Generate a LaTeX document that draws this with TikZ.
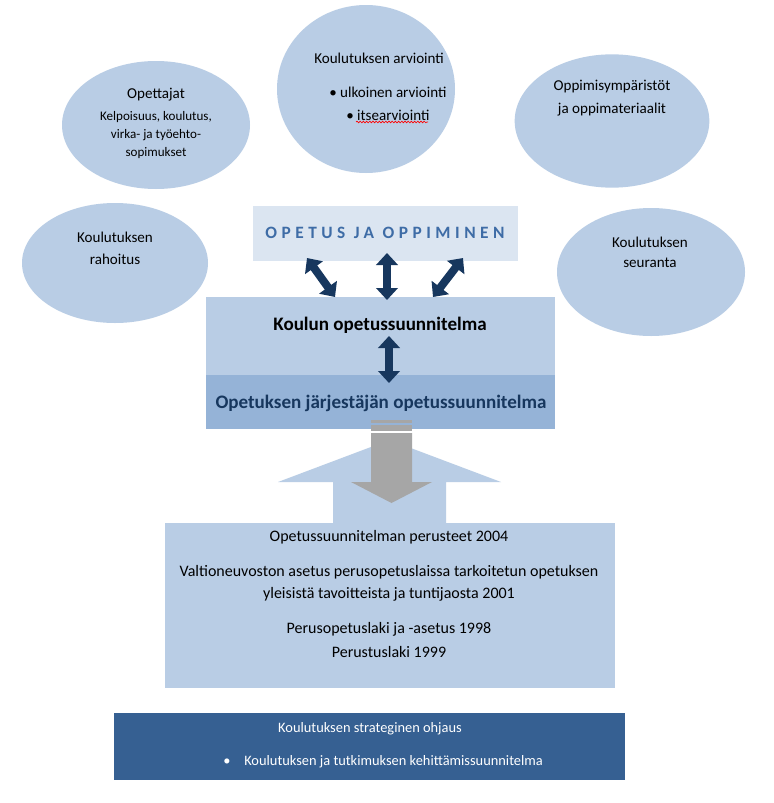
\documentclass[tikz,border=0pt]{standalone}
\usepackage{fontspec}
\setmainfont{Carlito}
\newfontfamily\spacedfont[LetterSpace=26]{Carlito}
\usetikzlibrary{shapes.geometric,arrows.meta,decorations.pathmorphing}
\definecolor{ellfill}{HTML}{B9CDE5}
\definecolor{palebox}{HTML}{DBE5F1}
\definecolor{midbox}{HTML}{95B3D7}
\definecolor{navy}{HTML}{17375E}
\definecolor{titleblue}{HTML}{3E6CA6}
\definecolor{grayarrow}{HTML}{A6A6A6}
\definecolor{darkbox}{HTML}{366092}
\begin{document}
\begin{tikzpicture}[x=0.75pt,y=-0.75pt,
  ell/.style={ellipse,fill=ellfill,draw=none,inner sep=0pt},
  txt/.style={inner sep=0pt,anchor=center,font=\fontsize{11.3}{13}\selectfont},
  small/.style={inner sep=0pt,anchor=center,font=\fontsize{9.8}{11}\selectfont},
  boxtxt/.style={inner sep=0pt,anchor=center,font=\fontsize{12}{14}\selectfont},
  dblarrow/.style={navy,line width=6pt,{Triangle[width=16pt,length=9pt]}-{Triangle[width=16pt,length=9pt]},shorten <=0pt,shorten >=0pt}]
\useasboundingbox (0,0) rectangle (774,803);
\fill[white] (0,0) rectangle (774,803);

% ellipses
\node[ell,minimum width=141pt,minimum height=96pt] (opettajat) at (156,125) {};
\node[ell,minimum width=133.5pt,minimum height=126pt] (arviointi) at (366,89) {};
\node[ell,minimum width=146pt,minimum height=100pt] (oppimis) at (612,121) {};
\node[ell,minimum width=139.5pt,minimum height=90pt] (rahoitus) at (115,263) {};
\node[ell,minimum width=141pt,minimum height=96pt] (seuranta) at (651,272) {};

\node[txt] (t1) at (156,95) {Opettajat};
\node[small] (t2) at (156,117) {Kelpoisuus, koulutus,};
\node[small] (t3) at (156,135) {virka- ja työehto-};
\node[small] (t4) at (156,153) {sopimukset};

\node[txt,anchor=west] (a1) at (314,58) {Koulutuksen arviointi};
\node[txt,anchor=west] (a2) at (329,92) {\textbullet\ ulkoinen arviointi};
\node[txt,anchor=west] (a3) at (346,115) {\textbullet\ itsearviointi};
\coordinate (w1) at (356,122);
\coordinate (w2) at (428,122);
\draw[red,line width=0.5pt,decorate,decoration={snake,amplitude=0.6pt,segment length=2.4pt}] (w1) -- (w2);

\node[txt] (o1) at (612,87) {Oppimisympäristöt};
\node[txt] (o2) at (612,110) {ja oppimateriaalit};

\node[txt] (r1) at (115,237) {Koulutuksen};
\node[txt] (r2) at (115,259) {rahoitus};

\node[txt] (s1) at (650,242) {Koulutuksen};
\node[txt] (s2) at (650,263) {seuranta};

% OPETUS JA OPPIMINEN
\fill[palebox] (253,206) rectangle (518,261);
\node[inner sep=0pt,text=titleblue,font=\spacedfont\bfseries\fontsize{13}{15}\selectfont] (title) at (385,233) {OPETUS JA OPPIMINEN};

% Koulun opetussuunnitelma box
\fill[ellfill] (206,297) rectangle (555,375);
\fill[midbox] (206,375) rectangle (555,429);
\node[inner sep=0pt,font=\bfseries\fontsize{14.3}{16}\selectfont] (koulun) at (380,325) {Koulun opetussuunnitelma};
\node[inner sep=0pt,text=navy,font=\bfseries\fontsize{14.3}{16}\selectfont] (jarj) at (381,403) {Opetuksen järjestäjän opetussuunnitelma};

% light blue up arrow
\fill[ellfill] (333,523) -- (333,482) -- (278,482) -- (389.5,440) -- (501,482) -- (446,482) -- (446,523) -- cycle;
% gray down arrow
\fill[grayarrow] (371,420) rectangle (412,423);
\fill[grayarrow] (371,425) rectangle (412,430.5);
\fill[grayarrow] (371,433) -- (412,433) -- (412,482) -- (432,482) -- (391.5,503) -- (351,482) -- (371,482) -- cycle;

% double arrows
\coordinate (l1) at (307,258); \coordinate (l2) at (335,297);
\coordinate (m1) at (387,253); \coordinate (m2) at (387,300);
\coordinate (r1c) at (463,258); \coordinate (r2c) at (433,297);
\coordinate (k1) at (389,336); \coordinate (k2) at (389,383);
\draw[dblarrow] (l1) -- (l2);
\draw[dblarrow] (m1) -- (m2);
\draw[dblarrow] (r1c) -- (r2c);
\draw[dblarrow] (k1) -- (k2);

% lower box
\fill[ellfill] (165,523) rectangle (615,688);
\node[boxtxt] (b1) at (389,537) {Opetussuunnitelman perusteet 2004};
\node[boxtxt] (b2) at (389,572) {Valtioneuvoston asetus perusopetuslaissa tarkoitetun opetuksen};
\node[boxtxt] (b3) at (389,594) {yleisistä tavoitteista ja tuntijaosta 2001};
\node[boxtxt] (b4) at (389,629) {Perusopetuslaki ja -asetus 1998};
\node[boxtxt] (b5) at (389,652) {Perustuslaki 1999};

% bottom dark box
\fill[darkbox] (114,713) rectangle (625,780);
\node[inner sep=0pt,text=white,font=\fontsize{10.8}{12}\selectfont] (d1) at (370,729) {Koulutuksen strateginen ohjaus};
\node[inner sep=0pt,text=white,font=\fontsize{10.8}{12}\selectfont] (d0) at (227,762) {\textbullet};
\node[inner sep=0pt,text=white,anchor=west,font=\fontsize{10.8}{12}\selectfont] (d2) at (244,762) {Koulutuksen ja tutkimuksen kehittämissuunnitelma};
\end{tikzpicture}
\end{document}
